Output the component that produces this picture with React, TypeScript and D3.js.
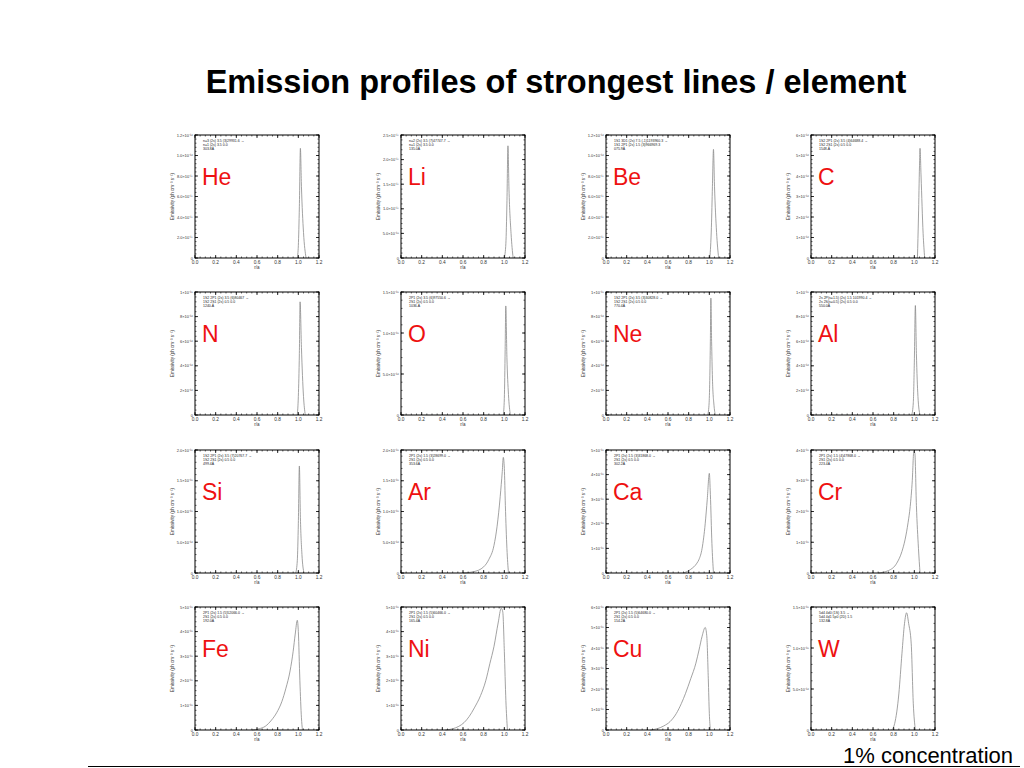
import * as d3 from 'd3'

// emissivity profiles, [r/a, emissivity in the panel's tick units]
const heProfile = [[0.99, 0], [1.0, 1.2], [1.01, 5], [1.02, 10.7], [1.03, 7], [1.05, 2.5], [1.075, 0]]
const liProfile = [[1.0, 0], [1.015, 3], [1.025, 11], [1.035, 22.8], [1.045, 14], [1.065, 5], [1.085, 0]]
const beProfile = [[1.005, 0], [1.02, 3], [1.03, 7], [1.04, 10.6], [1.05, 7], [1.07, 2.5], [1.09, 0]]
const cProfile = [[1.03, 0], [1.04, 2], [1.05, 4.5], [1.055, 5.35], [1.065, 4], [1.085, 1.2], [1.1, 0]]
const nProfile = [[0.99, 0], [1.0, 1.5], [1.01, 5], [1.017, 9.2], [1.03, 5.5], [1.05, 1.5], [1.067, 0]]
const oProfile = [[0.99, 0], [1.0, 2], [1.008, 8], [1.014, 13.3], [1.025, 7], [1.04, 2.5], [1.058, 0]]
const neProfile = [[0.985, 0], [0.998, 1], [1.005, 3.2], [1.01, 6], [1.015, 9.5], [1.022, 6], [1.03, 3], [1.045, 0.8], [1.058, 0]]
const alProfile = [[0.975, 0], [0.99, 1], [1.0, 4.3], [1.01, 8.9], [1.02, 5], [1.035, 1.5], [1.055, 0]]
const siProfile = [[0.975, 0], [0.99, 2], [1.0, 8], [1.01, 17.4], [1.02, 9], [1.035, 3], [1.055, 0]]
const arProfile = [[0.6, 0], [0.7, 0.2], [0.8, 1.0], [0.85, 2.2], [0.9, 4.5], [0.93, 7.6], [0.96, 12.4], [0.98, 16.5], [0.99, 18.8], [1.0, 17], [1.01, 11], [1.025, 4], [1.04, 0]]
const caProfile = [[0.75, 0], [0.82, 0.15], [0.88, 0.4], [0.9, 0.55], [0.93, 1.0], [0.96, 2.0], [0.98, 3.0], [1.0, 4.05], [1.01, 3.2], [1.025, 1.2], [1.04, 0]]
const crProfile = [[0.65, 0], [0.75, 0.08], [0.83, 0.32], [0.88, 0.7], [0.91, 1.08], [0.94, 1.65], [0.96, 2.16], [0.98, 3.0], [0.995, 3.95], [1.005, 3.9], [1.02, 2.2], [1.04, 0.8], [1.055, 0]]
const feProfile = [[0.55, 0], [0.62, 0.05], [0.68, 0.15], [0.74, 0.4], [0.79, 0.7], [0.84, 1.15], [0.88, 1.7], [0.92, 2.4], [0.95, 3.2], [0.97, 3.9], [0.99, 4.46], [1.0, 4.0], [1.015, 2.0], [1.03, 0.5], [1.04, 0]]
const niProfile = [[0.43, 0], [0.5, 0.05], [0.56, 0.15], [0.61, 0.3], [0.66, 0.55], [0.71, 0.9], [0.77, 1.4], [0.82, 2.0], [0.86, 2.7], [0.9, 3.4], [0.94, 4.35], [0.97, 4.95], [0.985, 4.8], [1.0, 3.2], [1.015, 1.2], [1.03, 0]]
const cuProfile = [[0.43, 0], [0.5, 0.07], [0.56, 0.2], [0.62, 0.41], [0.68, 0.8], [0.73, 1.3], [0.77, 1.79], [0.82, 2.5], [0.87, 3.26], [0.9, 3.9], [0.93, 4.57], [0.96, 5.0], [0.975, 4.6], [0.99, 2.5], [1.0, 0.8], [1.01, 0]]
const wProfile = [[0.78, 0], [0.81, 0.8], [0.85, 4.4], [0.88, 9.3], [0.905, 13], [0.925, 14.3], [0.945, 13], [0.97, 10.5], [0.99, 3.2], [1.01, 0]]

// y tick label sets
const ticks12e17 = ['0', '2.0×10⁻¹⁷', '4.0×10⁻¹⁷', '6.0×10⁻¹⁷', '8.0×10⁻¹⁷', '1.0×10⁻¹⁶', '1.2×10⁻¹⁶']
const ticks25e18 = ['0', '5.0×10⁻¹⁸', '1.0×10⁻¹⁷', '1.5×10⁻¹⁷', '2.0×10⁻¹⁷', '2.5×10⁻¹⁷']
const ticks6e16 = ['0', '1×10⁻¹⁶', '2×10⁻¹⁶', '3×10⁻¹⁶', '4×10⁻¹⁶', '5×10⁻¹⁶', '6×10⁻¹⁶']
const ticks10e16 = ['0', '2×10⁻¹⁶', '4×10⁻¹⁶', '6×10⁻¹⁶', '8×10⁻¹⁶', '1×10⁻¹⁵']
const ticks15e16 = ['0', '5.0×10⁻¹⁶', '1.0×10⁻¹⁵', '1.5×10⁻¹⁵']
const ticks20e16 = ['0', '5.0×10⁻¹⁶', '1.0×10⁻¹⁵', '1.5×10⁻¹⁵', '2.0×10⁻¹⁵']
const ticks4e15 = ['0', '1×10⁻¹⁵', '2×10⁻¹⁵', '3×10⁻¹⁵', '4×10⁻¹⁵']
const ticks5e15 = ['0', '1×10⁻¹⁵', '2×10⁻¹⁵', '3×10⁻¹⁵', '4×10⁻¹⁵', '5×10⁻¹⁵']
const ticks6e15 = ['0', '1×10⁻¹⁵', '2×10⁻¹⁵', '3×10⁻¹⁵', '4×10⁻¹⁵', '5×10⁻¹⁵', '6×10⁻¹⁵']

const elements = ['He', 'Li', 'Be', 'C', 'N', 'O', 'Ne', 'Al', 'Si', 'Ar', 'Ca', 'Cr', 'Fe', 'Ni', 'Cu', 'W']
const profiles = [heProfile, liProfile, beProfile, cProfile, nProfile, oProfile, neProfile, alProfile,
  siProfile, arProfile, caProfile, crProfile, feProfile, niProfile, cuProfile, wProfile]
const yMaxes = [12, 25, 12, 6, 10, 15, 10, 10, 20, 20, 5, 4, 5, 5, 6, 15]
const yTickLabels = [ticks12e17, ticks25e18, ticks12e17, ticks6e16, ticks10e16, ticks15e16, ticks10e16, ticks10e16,
  ticks20e16, ticks20e16, ticks5e15, ticks4e15, ticks5e15, ticks5e15, ticks6e15, ticks15e16]
const lineInfo = [
  ['n=3 (2s) 3.5 (3)29931.6 →', 'n=1 (2s) 3.5 0.0', '303.8Å'],
  ['n=2 (2s) 3.5 (7)47747.7 →', 'n=1 (2s) 3.5 0.0', '135.0Å'],
  ['1S1 3D1 (2s) 7.5 (-1)1193960.3 →', '1S1 2P1 (2s) 1.5 (3)966969.3', '075.9Å'],
  ['1S2 2P1 (2s) 3.5 (4)64688.4 →', '1S2 2S1 (2s) 0.5 0.0', '1548.Å'],
  ['1S2 2P1 (2s) 3.5 (6)80467 →', '1S2 2S1 (2s) 0.5 0.0', '1240.Å'],
  ['2P1 (2s) 3.5 (6)97550.6 →', '2S1 (2s) 0.5 0.0', '1036.Å'],
  ['1S2 2P1 (2s) 3.5 (3)30828.0 →', '1S2 2S1 (2s) 0.5 0.0', '770.4Å'],
  ['2s 2P(s=1.5) (2s) 1.5 101990.4 →', '2s 2S(s=0.5) (2s) 0.5 0.0', '550.0Å'],
  ['1S2 2P1 (2s) 3.5 (7)20767.7 →', '1S2 2S1 (2s) 0.5 0.0', '499.4Å'],
  ['2P1 (2s) 1.5 (3)28699.0 →', '2S1 (2s) 0.5 0.0', '353.6Å'],
  ['2P1 (2s) 1.5 (3)31868.0 →', '2S1 (2s) 0.5 0.0', '302.2Å'],
  ['2P1 (2s) 1.5 (4)47868.0 →', '2S1 (2s) 0.5 0.0', '223.4Å'],
  ['2P1 (2s) 1.5 (5)52066.0 →', '2S1 (2s) 0.5 0.0', '192.0Å'],
  ['2P1 (2s) 1.5 (5)60466.0 →', '2S1 (2s) 0.5 0.0', '165.4Å'],
  ['2P1 (2s) 1.5 (5)64680.0 →', '2S1 (2s) 0.5 0.0', '154.2Å'],
  ['5d4 4d0 (1S) 3.5 →', '5d4 4d1 5p0 (2D) 1.5', '132.8Å'],
]
const xTicks = [0, 0.2, 0.4, 0.6, 0.8, 1.0, 1.2]

const colLeft = [195, 401, 606, 811]
const rowTop = [135, 292, 450, 607]
const boxW = 124
const boxH = 123

function Panel({ idx }: { idx: number }) {
  const x0 = colLeft[idx % 4]
  const y0 = rowTop[Math.floor(idx / 4)]
  const yMax = yMaxes[idx]
  const labels = yTickLabels[idx]
  const yStep = yMax / (labels.length - 1)
  const x = d3.scaleLinear().domain([0, 1.2]).range([0, boxW])
  const y = d3.scaleLinear().domain([0, yMax]).range([boxH, 0])
  const line = d3.line<number[]>()
    .x(d => x(d[0]))
    .y(d => y(d[1]))
    .curve(d3.curveMonotoneX)
  const xMinor = d3.range(0, 1.2001, 0.05)
  const yMinor = d3.range(0, yMax + 1e-6, yStep / 5)
  const yMajor = labels.map((_, i) => i * yStep)

  return (
    <g transform={`translate(${x0},${y0})`}>
      <path d={line(profiles[idx] as number[][]) || ''} fill="none" stroke="#8a8a8a" strokeWidth={0.8} />
      <rect x={0} y={0} width={boxW} height={boxH} fill="none" stroke="#000" strokeWidth={1} />
      {xMinor.map((v, i) => (
        <g key={'xm' + i}>
          <line x1={x(v)} x2={x(v)} y1={boxH} y2={boxH - 1.5} stroke="#000" strokeWidth={0.6} />
          <line x1={x(v)} x2={x(v)} y1={0} y2={1.5} stroke="#000" strokeWidth={0.6} />
        </g>
      ))}
      {xTicks.map((v, i) => (
        <g key={'xt' + i}>
          <line x1={x(v)} x2={x(v)} y1={boxH} y2={boxH - 3} stroke="#000" strokeWidth={0.8} />
          <line x1={x(v)} x2={x(v)} y1={0} y2={3} stroke="#000" strokeWidth={0.8} />
          <text x={x(v)} y={boxH + 6} fontSize={4.8} textAnchor="middle" fill="#333">{v.toFixed(1)}</text>
        </g>
      ))}
      <text x={boxW / 2} y={boxH + 11} fontSize={4.5} textAnchor="middle" fill="#333">r/a</text>
      {yMinor.map((v, i) => (
        <g key={'ym' + i}>
          <line x1={0} x2={1.5} y1={y(v)} y2={y(v)} stroke="#000" strokeWidth={0.6} />
          <line x1={boxW} x2={boxW - 1.5} y1={y(v)} y2={y(v)} stroke="#000" strokeWidth={0.6} />
        </g>
      ))}
      {yMajor.map((v, i) => (
        <g key={'yt' + i}>
          <line x1={0} x2={3} y1={y(v)} y2={y(v)} stroke="#000" strokeWidth={0.8} />
          <line x1={boxW} x2={boxW - 3} y1={y(v)} y2={y(v)} stroke="#000" strokeWidth={0.8} />
          <text x={-2} y={y(v) + 1.5} fontSize={4} textAnchor="end" fill="#333">{labels[i]}</text>
        </g>
      ))}
      <text transform={`translate(${-21},${boxH / 2}) rotate(-90)`} fontSize={4.5} textAnchor="middle" fill="#333">
        Emissivity (ph cm⁻³ s⁻¹)
      </text>
      {lineInfo[idx].map((t, i) => (
        <text key={'li' + i} x={8} y={7 + i * 4} fontSize={3.5} fill="#222">{t}</text>
      ))}
      <text x={7} y={50} fontSize={23} fill="#ee1111">{elements[idx]}</text>
    </g>
  )
}

export default function App() {
  return (
    <svg width={1024} height={768} viewBox="0 0 1024 768"
      style={{ position: 'absolute', left: 0, top: 0, background: '#fff' }}
      fontFamily="'Liberation Sans', Arial, sans-serif">
      <rect x={0} y={0} width={1024} height={768} fill="#fff" />
      <text x={556} y={93} fontSize={32.5} fontWeight="bold" textAnchor="middle" fill="#000">
        Emission profiles of strongest lines / element
      </text>
      {elements.map((_, i) => <Panel key={i} idx={i} />)}
      <text x={1013} y={763} fontSize={22} textAnchor="end" fill="#000">1% concentration</text>
      <line x1={88} x2={1020} y1={766.5} y2={766.5} stroke="#000" strokeWidth={1} />
    </svg>
  )
}
